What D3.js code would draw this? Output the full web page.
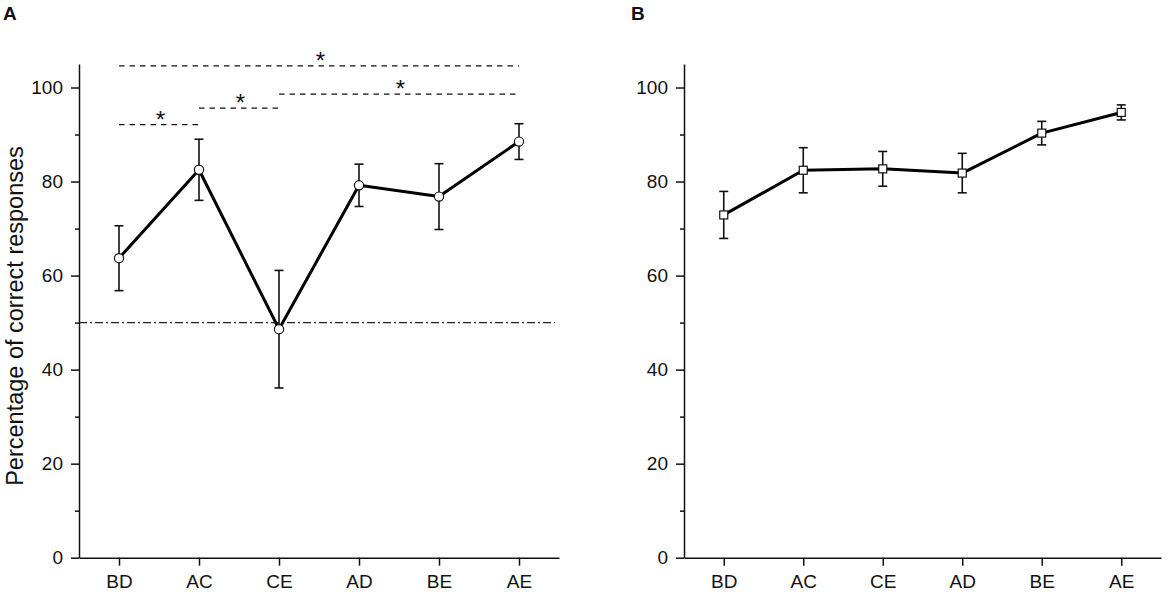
<!DOCTYPE html>
<html>
<head>
<meta charset="utf-8">
<script src="https://cdn.jsdelivr.net/npm/d3@7"></script>
<style>
  body { margin: 0; background: #fff; }
  text { font-family: "Liberation Sans", Arial, sans-serif; fill: #111; }
</style>
</head>
<body>
<script>
var categories = ['BD', 'AC', 'CE', 'AD', 'BE', 'AE']

// panel A, circles
var meanA = [63.7, 82.5, 48.6, 79.2, 76.8, 88.5]
var errA = [6.9, 6.5, 12.5, 4.5, 7.0, 3.8]

// panel B, squares
var meanB = [72.9, 82.4, 82.7, 81.8, 90.3, 94.7]
var errB = [5.0, 4.8, 3.7, 4.2, 2.5, 1.6]

// significance bars in panel A
var sigFrom = ['BD', 'AC', 'CE', 'BD']
var sigTo = ['AC', 'CE', 'AE', 'AE']
var sigLevel = [92.1, 95.6, 98.6, 104.6]

var chance = 50
var majorTicks = [0, 20, 40, 60, 80, 100]
var minorTicks = [10, 30, 50, 70, 90]

var fullWidth = 1170
var fullHeight = 592

var svg = d3
  .select('body')
  .append('svg')
  .attr('width', fullWidth)
  .attr('height', fullHeight)

var y = d3.scaleLinear().domain([0, 105]).range([557.7, 64])

function drawPanel(g, x, means, errs, marker) {
  // axes
  g.append('g')
    .attr('transform', 'translate(0,' + y(0) + ')')
    .call(d3.axisBottom(x).tickSize(8).tickPadding(9).tickSizeOuter(0))
    .call(styleAxis)

  g.append('g')
    .attr('transform', 'translate(' + x.range()[0] + ',0)')
    .call(d3.axisLeft(y).tickValues(majorTicks).tickSize(8).tickPadding(8).tickSizeOuter(0))
    .call(styleAxis)

  g.append('g')
    .attr('transform', 'translate(' + x.range()[0] + ',0)')
    .call(d3.axisLeft(y).tickValues(minorTicks).tickSize(4).tickFormat('').tickSizeOuter(0))
    .call(styleAxis)
    .select('.domain').remove()

  // error bars
  var eb = g.append('g').attr('stroke', '#111').attr('stroke-width', 1.6)
  categories.forEach(function (c, i) {
    var cx = x(c)
    var top = y(means[i] + errs[i])
    var bot = y(means[i] - errs[i])
    eb.append('line').attr('x1', cx).attr('x2', cx).attr('y1', top).attr('y2', bot)
    eb.append('line').attr('x1', cx - 4.5).attr('x2', cx + 4.5).attr('y1', top).attr('y2', top)
    eb.append('line').attr('x1', cx - 4.5).attr('x2', cx + 4.5).attr('y1', bot).attr('y2', bot)
  })

  // mean line
  var line = d3.line()
    .x(function (d, i) { return x(categories[i]) })
    .y(function (d) { return y(d) })

  g.append('path')
    .datum(means)
    .attr('d', line)
    .attr('fill', 'none')
    .attr('stroke', '#000')
    .attr('stroke-width', 3)
    .attr('stroke-linejoin', 'round')

  // markers
  if (marker === 'circle') {
    g.selectAll('.pt')
      .data(means)
      .enter()
      .append('circle')
      .attr('cx', function (d, i) { return x(categories[i]) })
      .attr('cy', function (d) { return y(d) })
      .attr('r', 4.6)
      .attr('fill', '#fff')
      .attr('stroke', '#111')
      .attr('stroke-width', 1.2)
  } else {
    g.selectAll('.pt')
      .data(means)
      .enter()
      .append('rect')
      .attr('x', function (d, i) { return x(categories[i]) - 4 })
      .attr('y', function (d) { return y(d) - 4 })
      .attr('width', 8)
      .attr('height', 8)
      .attr('fill', '#fff')
      .attr('stroke', '#111')
      .attr('stroke-width', 1.2)
  }
}

function styleAxis(sel) {
  sel.selectAll('.domain').attr('stroke', '#111').attr('stroke-width', 1.5)
  sel.selectAll('.tick line').attr('stroke', '#111').attr('stroke-width', 1.5)
  sel.selectAll('.tick text')
    .style('font-family', '"Liberation Sans", Arial, sans-serif')
    .style('font-size', '19px')
    .attr('fill', '#111')
}

// ---- panel A
var xA = d3.scalePoint().domain(categories).range([79, 559]).padding(0.5)
var gA = svg.append('g')

// chance level
gA.append('line')
  .attr('x1', xA.range()[0])
  .attr('x2', 555)
  .attr('y1', y(chance))
  .attr('y2', y(chance))
  .attr('stroke', '#222')
  .attr('stroke-width', 1.2)
  .attr('stroke-dasharray', '8,3,2,3')

drawPanel(gA, xA, meanA, errA, 'circle')

// significance bars
sigLevel.forEach(function (lv, i) {
  var x1 = xA(sigFrom[i])
  var x2 = xA(sigTo[i])
  gA.append('line')
    .attr('x1', x1)
    .attr('x2', x2)
    .attr('y1', y(lv))
    .attr('y2', y(lv))
    .attr('stroke', '#111')
    .attr('stroke-width', 1.3)
    .attr('stroke-dasharray', '5.5,5')
  gA.append('text')
    .attr('x', (x1 + x2) / 2 + 1.5)
    .attr('y', y(lv) + 3)
    .attr('text-anchor', 'middle')
    .style('font-size', '24px')
    .text('*')
})

// y label
gA.append('text')
  .attr('transform', 'translate(23,' + 316 + ') rotate(-90)')
  .attr('text-anchor', 'middle')
  .style('font-size', '23.5px')
  .text('Percentage of correct responses')

gA.append('text')
  .attr('x', 3)
  .attr('y', 20)
  .style('font-size', '19px')
  .style('font-weight', 'bold')
  .text('A')

// ---- panel B
var xB = d3.scalePoint().domain(categories).range([684, 1161]).padding(0.5)
var gB = svg.append('g')
drawPanel(gB, xB, meanB, errB, 'square')

gB.append('text')
  .attr('x', 631)
  .attr('y', 20)
  .style('font-size', '19px')
  .style('font-weight', 'bold')
  .text('B')
</script>
</body>
</html>
